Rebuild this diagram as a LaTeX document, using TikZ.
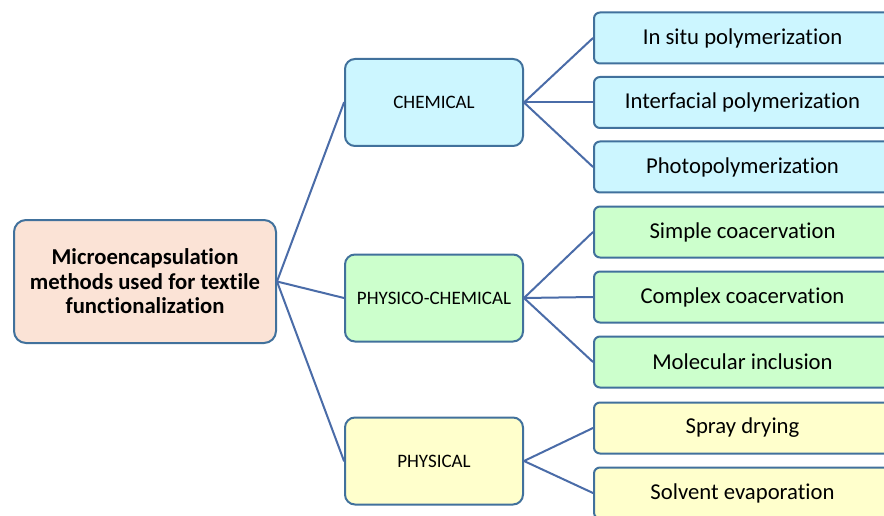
\documentclass[tikz,border=0pt]{standalone}
\usepackage{fontspec}
\setmainfont{Carlito}[Ligatures=NoCommon]
\usepackage{xcolor}
\usetikzlibrary{calc, positioning}
\definecolor{boxline}{RGB}{65, 113, 156}
\definecolor{linkblue}{RGB}{74, 108, 168}
\definecolor{peach}{RGB}{251, 227, 214}
\definecolor{lightcyan}{RGB}{204, 246, 255}
\definecolor{mintgreen}{RGB}{204, 255, 204}
\definecolor{paleyellow}{RGB}{255, 255, 204}

\tikzset{
    rootbox/.style={draw=boxline, fill=peach, line width=2pt, rounded corners=12pt,
        minimum width=262pt, minimum height=123pt, align=center,
        font=\fontsize{22.7}{24.5}\selectfont\bfseries},
    groupbox/.style={draw=boxline, line width=2pt, rounded corners=10pt,
        minimum width=178pt, minimum height=87pt,
        font=\fontsize{19}{22}\selectfont},
    methodbox/.style={draw=boxline, line width=2pt, rounded corners=6pt,
        minimum width=297pt, minimum height=51pt, anchor=west,
        font=\fontsize{22.7}{26}\selectfont},
    link/.style={draw=linkblue, line width=2pt}
}

\begin{document}
\begin{tikzpicture}[line cap=round, line join=round, x=1pt, y=-1pt]
        \clip (0,0) rectangle (884,516);
        \fill[white] (0,0) rectangle (884,516);

        \node[rootbox] (micro) at (145,281.5) {Microencapsulation\\methods used for textile\\functionalization};

        \node[groupbox, fill=lightcyan] (chem) at (434,102.5) {CHEMICAL};
        \node[groupbox, fill=mintgreen] (phychem) at (434,298) {PHYSICO-CHEMICAL};
        \node[groupbox, fill=paleyellow] (phys) at (434,461) {PHYSICAL};

        \node[methodbox, fill=lightcyan] (insitu) at (593,38) {In situ polymerization};
        \node[methodbox, fill=lightcyan] (interf) at (593,102.5) {Interfacial polymerization};
        \node[methodbox, fill=lightcyan] (photo) at (593,167) {Photopolymerization};
        \node[methodbox, fill=mintgreen] (simple) at (593,232) {Simple coacervation};
        \node[methodbox, fill=mintgreen] (complex) at (593,297) {Complex coacervation};
        \node[methodbox, fill=mintgreen] (molec) at (593,362) {Molecular inclusion};
        \node[methodbox, fill=paleyellow] (spray) at (593,428) {Spray drying};
        \node[methodbox, fill=paleyellow] (solvent) at (593,493) {Solvent evaporation};

        % root to groups
        \draw[link] (micro.east) -- (chem.west);
        \draw[link] (micro.east) -- (phychem.west);
        \draw[link] (micro.east) -- (phys.west);

        % groups to methods
        \draw[link] (chem.east) -- (insitu.west);
        \draw[link] (chem.east) -- (interf.west);
        \draw[link] (chem.east) -- (photo.west);
        \draw[link] (phychem.east) -- (simple.west);
        \draw[link] (phychem.east) -- (complex.west);
        \draw[link] (phychem.east) -- (molec.west);
        \draw[link] (phys.east) -- (spray.west);
        \draw[link] (phys.east) -- (solvent.west);
    \end{tikzpicture}
\end{document}
